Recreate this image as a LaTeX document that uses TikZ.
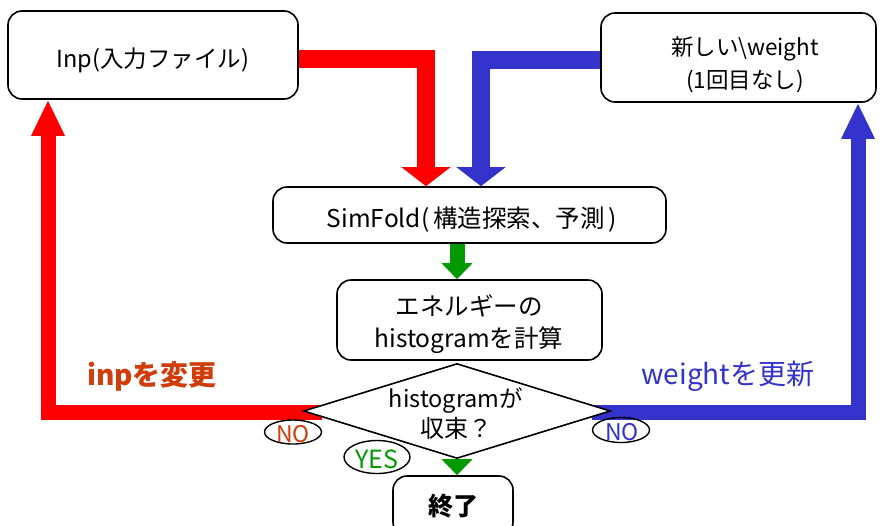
\documentclass[tikz,border=0pt]{standalone}
\usepackage{fontspec}
\setmainfont{Noto Sans CJK JP}
\usetikzlibrary{arrows.meta,shapes.geometric,backgrounds}
\definecolor{rred}{RGB}{255,0,0}
\definecolor{bblue}{RGB}{51,51,204}
\definecolor{ggreen}{RGB}{0,153,0}
\definecolor{orng}{RGB}{208,60,10}
\begin{document}
\begin{tikzpicture}[x=1pt,y=-1pt,
  box/.style={draw, line width=1.6pt, rounded corners=14pt, fill=white, inner sep=0pt},
  dec/.style={draw, line width=1.6pt, shape=diamond, fill=white, inner sep=0pt},
  tag/.style={draw, line width=1.4pt, ellipse, inner sep=0pt},
  txt/.style={anchor=base, inner sep=0pt},
  bigarrow/.style={line width=18pt, line join=miter, -{Triangle[width=48pt,length=19pt]}},
  retarrow/.style={line width=15pt, line join=miter, -{Triangle[width=31pt,length=36pt]}},
  grnarrow/.style={ggreen, line width=15pt, -{Triangle[width=30pt,length=16pt]}}
]
\useasboundingbox (0,0) rectangle (882,525);

% boxes
\node[box, minimum width=290pt, minimum height=88pt] (inp) at (153,55) {};
\node[box, minimum width=275pt, minimum height=89pt] (nw) at (738.5,57.5) {};
\node[box, minimum width=393pt, minimum height=56pt] (sf) at (469.5,215) {};
\node[box, minimum width=265pt, minimum height=80pt] (en) at (469.5,320) {};
\node[dec, minimum width=307pt, minimum height=95pt] (dia) at (457,411) {};
\node[box, minimum width=120pt, minimum height=60pt] (end) at (453,506) {};

% texts
\node[txt, font=\fontsize{23.5}{23.5}\selectfont] (inpt) at (153,67) {Inp(入力ファイル)};
\node[txt, font=\fontsize{22.5}{22.5}\selectfont] (nwt1) at (745,55) {新しい\textbackslash weight};
\node[txt, font=\fontsize{22.5}{22.5}\selectfont] (nwt2) at (745,88) {(1回目なし)};
\node[txt, font=\fontsize{24.5}{24.5}\selectfont] (sft) at (472,227) {SimFold(\,構造探索、予測\,)};
\node[txt, font=\fontsize{24.5}{24.5}\selectfont] (ent1) at (469,315) {エネルギーの};
\node[txt, font=\fontsize{24.5}{24.5}\selectfont] (ent2) at (469,347) {histogramを計算};
\node[txt, font=\fontsize{23.5}{23.5}\selectfont] (diat1) at (456,407) {histogramが};
\node[txt, font=\fontsize{24}{24}\selectfont] (diat2) at (456,437) {収束？};
\node[txt, font=\bfseries\fontsize{25}{25}\selectfont] (endt) at (453,515) {終了};

\node[txt, font=\bfseries\fontsize{28}{28}\selectfont, text=orng] (lr) at (152,385) {inpを変更};
\node[txt, font=\fontsize{28}{28}\selectfont, text=bblue] (lb) at (728,384) {weightを更新};

\node[tag, minimum width=57pt, minimum height=24pt] (no1) at (293,432) {};
\node[txt, text=orng, font=\fontsize{23}{23}\selectfont] (no1t) at (293,442) {NO};
\node[tag, minimum width=66pt, minimum height=33pt] (yes) at (377,457) {};
\node[txt, text=ggreen, font=\fontsize{25}{25}\selectfont] (yest) at (377,468) {YES};
\node[tag, minimum width=57pt, minimum height=25pt] (no2) at (621,430) {};
\node[txt, text=bblue, font=\fontsize{23}{23}\selectfont] (no2t) at (622,440) {NO};

\coordinate (r1) at (426,59);
\coordinate (b1) at (481,60);
\coordinate (r2s) at (322,412);
\coordinate (r2) at (48,412);
\coordinate (b2s) at (592,412);
\coordinate (b2) at (858,412);

\begin{scope}[on background layer]
  \fill[white] (0,0) rectangle (882,525);
  \draw[bigarrow, rred] (inp.east |- r1) -- (r1) -- (r1 |- sf.north);
  \draw[bigarrow, bblue] (nw.west |- b1) -- (b1) -- (b1 |- sf.north);
  \draw[retarrow, rred] (r2s) -- (r2) -- (r2 |- inp.south);
  \draw[retarrow, bblue] (b2s) -- (b2) -- (b2 |- nw.south);
  \draw[grnarrow] (sf.south -| dia.north) -- (en.north -| dia.north);
  \draw[grnarrow] (dia.south) -- (end.north -| dia.south);
\end{scope}
\end{tikzpicture}
\end{document}
